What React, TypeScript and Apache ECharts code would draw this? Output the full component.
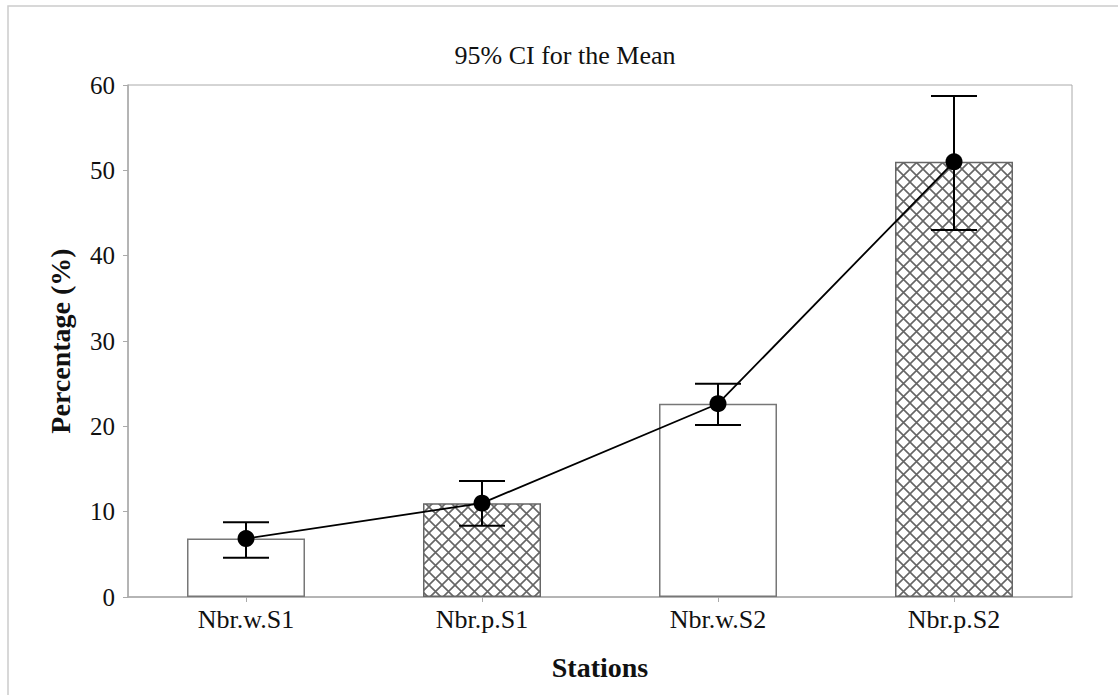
import React, { useEffect, useRef } from "react";
import * as echarts from "echarts";

const categories = ["Nbr.w.S1", "Nbr.p.S1", "Nbr.w.S2", "Nbr.p.S2"];
const means = [6.85, 11.0, 22.65, 51.0];
const ciLow = [4.6, 8.35, 20.15, 43.0];
const ciHigh = [8.75, 13.6, 25.0, 58.7];
const hatched = [false, true, false, true];
const yTicks = { min: 0, max: 60, interval: 10 };

const FONT = "Liberation Serif";

function makeHatch(): HTMLCanvasElement {
  const s = 13;
  const c = document.createElement("canvas");
  c.width = s;
  c.height = s;
  const ctx = c.getContext("2d")!;
  ctx.fillStyle = "#ffffff";
  ctx.fillRect(0, 0, s, s);
  ctx.strokeStyle = "#666666";
  ctx.lineWidth = 1.6;
  ctx.beginPath();
  ctx.moveTo(-1, -1);
  ctx.lineTo(s + 1, s + 1);
  ctx.moveTo(s + 1, -1);
  ctx.lineTo(-1, s + 1);
  ctx.stroke();
  return c;
}

export default function App() {
  const ref = useRef<HTMLDivElement>(null);
  useEffect(() => {
    if (!ref.current) return;
    const chart = echarts.init(ref.current, undefined, { renderer: "svg" });
    const hatch = makeHatch();
    const pattern: any = { image: hatch, repeat: "repeat", imageWidth: 13, imageHeight: 13 };

    chart.setOption({
      animation: false,
      backgroundColor: "#ffffff",
      textStyle: { fontFamily: FONT },
      grid: {
        left: 128,
        right: 46,
        top: 85,
        bottom: 98,
        show: true,
        borderColor: "#aaaaaa",
        borderWidth: 1,
        containLabel: false,
      },
      graphic: [
        {
          type: "rect",
          shape: { x: 8, y: 6, width: 1300, height: 900 },
          style: { fill: "none", stroke: "#cccccc", lineWidth: 1.5 },
          silent: true,
          z: -10,
        },
        {
          type: "text",
          x: 565,
          y: 55,
          style: {
            text: "95% CI for the Mean",
            textAlign: "center",
            textVerticalAlign: "middle",
            fontFamily: FONT,
            fontSize: 26,
            fill: "#111",
          },
        },
      ],
      xAxis: {
        type: "category",
        data: categories,
        boundaryGap: true,
        axisLine: { lineStyle: { color: "#aaaaaa", width: 1.5 } },
        axisTick: { show: true, alignWithLabel: true, length: 5, lineStyle: { color: "#aaaaaa" } },
        axisLabel: { color: "#111", fontFamily: FONT, fontSize: 26, margin: 9 },
        name: "Stations",
        nameLocation: "middle",
        nameGap: 56,
        nameTextStyle: { color: "#111", fontFamily: FONT, fontSize: 28, fontWeight: "bold" },
        splitLine: { show: false },
      },
      yAxis: {
        type: "value",
        min: yTicks.min,
        max: yTicks.max,
        interval: yTicks.interval,
        axisLine: { show: true, lineStyle: { color: "#aaaaaa", width: 1.5 } },
        axisTick: { show: true, length: 5, lineStyle: { color: "#aaaaaa" } },
        axisLabel: { color: "#111", fontFamily: FONT, fontSize: 25, margin: 13 },
        splitLine: { show: false },
        name: "Percentage (%)",
        nameLocation: "middle",
        nameGap: 54,
        nameTextStyle: { color: "#111", fontFamily: FONT, fontSize: 28, fontWeight: "bold" },
      },
      series: [
        {
          type: "bar",
          barWidth: "50%",
          data: means.map((v, i) => ({
            value: v,
            itemStyle: {
              color: hatched[i] ? pattern : "#ffffff",
              borderColor: hatched[i] ? "#666666" : "#777777",
              borderWidth: 1.5,
            },
          })),
          z: 1,
        },
        {
          type: "custom",
          data: categories.map((_, i) => [i, ciLow[i], ciHigh[i]]),
          renderItem: (params: any, api: any) => {
            const x = api.value(0);
            const lo = api.coord([x, api.value(1)]);
            const hi = api.coord([x, api.value(2)]);
            const half = 23;
            const style = { stroke: "#000", lineWidth: 2 };
            return {
              type: "group",
              children: [
                { type: "line", shape: { x1: hi[0], y1: hi[1], x2: lo[0], y2: lo[1] }, style },
                { type: "line", shape: { x1: hi[0] - half, y1: hi[1], x2: hi[0] + half, y2: hi[1] }, style },
                { type: "line", shape: { x1: lo[0] - half, y1: lo[1], x2: lo[0] + half, y2: lo[1] }, style },
              ],
            };
          },
          z: 3,
        },
        {
          type: "line",
          data: means,
          symbol: "circle",
          symbolSize: 17,
          itemStyle: { color: "#000" },
          lineStyle: { color: "#000", width: 1.8 },
          z: 4,
        },
      ],
    });
    return () => chart.dispose();
  }, []);
  return (
    <div
      ref={ref}
      style={{ position: "absolute", left: 0, top: 0, width: 1118, height: 695 }}
    />
  );
}
